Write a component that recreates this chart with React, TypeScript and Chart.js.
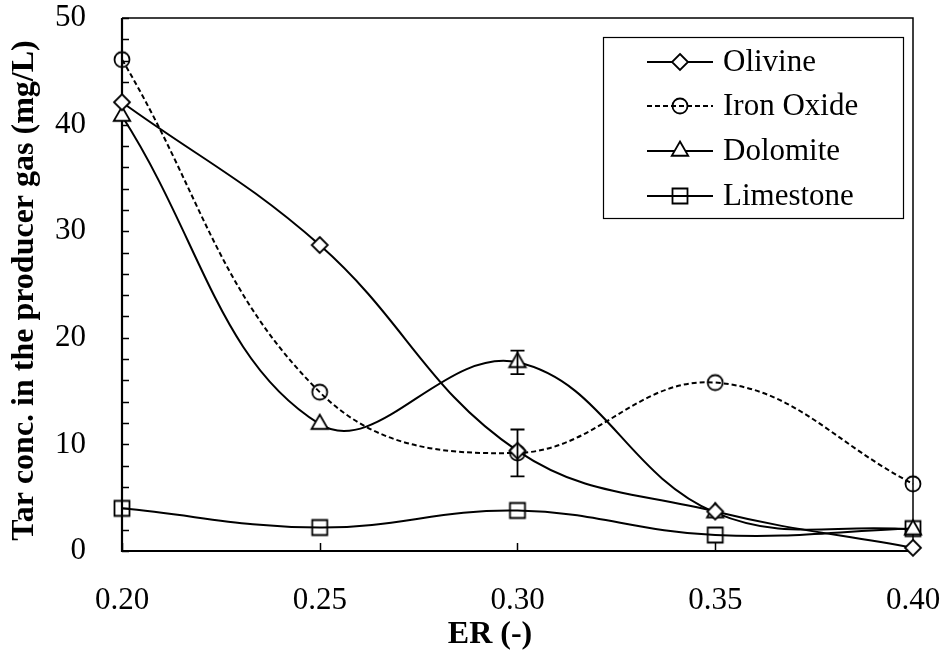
import React, { useEffect, useRef } from "react";
import { Chart, registerables } from "chart.js";

Chart.register(...registerables);

const erValues = [0.2, 0.25, 0.3, 0.35, 0.4];
const olivine = [42.1, 28.7, 9.4, 3.7, 0.3];
const ironOxide = [46.1, 14.9, 9.2, 15.8, 6.3];
const dolomite = [40.8, 11.9, 17.7, 3.6, 2.0];
const limestone = [4.0, 2.2, 3.8, 1.5, 2.1];
const ironOxideErr = [0, 0, 2.2, 0, 0];
const dolomiteErr = [0, 0, 1.1, 0, 0];
const seriesNames = ["Olivine", "Iron Oxide", "Dolomite", "Limestone"];
const xTicks = [0.2, 0.25, 0.3, 0.35, 0.4];
const yTicks = [0, 10, 20, 30, 40, 50];
const xTitle = "ER (-)";
const yTitle = "Tar conc. in the producer gas (mg/L)";

const SERIF = "'Liberation Serif', 'Times New Roman', serif";

type Marker = "diamond" | "circle" | "triangle" | "square";
const markers: Marker[] = ["diamond", "circle", "triangle", "square"];
const dashes: number[][] = [[], [5, 3], [], []];
const fills = ["#ffffff", "rgba(0,0,0,0)", "#ffffff", "rgba(0,0,0,0)"];

function drawMarker(ctx: CanvasRenderingContext2D, m: Marker, x: number, y: number, fill: string) {
  ctx.save();
  ctx.setLineDash([]);
  ctx.lineWidth = 1.8;
  ctx.strokeStyle = "#000";
  ctx.fillStyle = fill;
  ctx.beginPath();
  if (m === "diamond") {
    const r = 8;
    ctx.moveTo(x, y - r);
    ctx.lineTo(x + r, y);
    ctx.lineTo(x, y + r);
    ctx.lineTo(x - r, y);
    ctx.closePath();
  } else if (m === "circle") {
    ctx.arc(x, y, 7.5, 0, Math.PI * 2);
  } else if (m === "triangle") {
    const r = 9.5;
    ctx.moveTo(x, y - r);
    ctx.lineTo(x + r * 0.866, y + r * 0.5);
    ctx.lineTo(x - r * 0.866, y + r * 0.5);
    ctx.closePath();
  } else {
    const h = 7.5;
    ctx.rect(x - h, y - h, 2 * h, 2 * h);
  }
  ctx.fill();
  ctx.stroke();
  ctx.restore();
}

function makePointCanvas(m: Marker, fill: string) {
  const c = document.createElement("canvas");
  c.width = 24;
  c.height = 24;
  const ctx = c.getContext("2d")!;
  drawMarker(ctx, m, 12, 12, fill);
  return c;
}

const frameAndTicks = {
  id: "frameAndTicks",
  beforeDatasetsDraw(chart: any) {
    const { ctx, chartArea } = chart;
    const xs = chart.scales.x;
    const ys = chart.scales.y;
    ctx.save();
    ctx.strokeStyle = "#000";
    ctx.lineWidth = 1.5;
    ctx.beginPath();
    ctx.moveTo(chartArea.left, chartArea.top);
    ctx.lineTo(chartArea.right, chartArea.top);
    ctx.lineTo(chartArea.right, chartArea.bottom);
    ctx.stroke();
    ctx.lineWidth = 2.2;
    ctx.beginPath();
    ctx.moveTo(chartArea.left, chartArea.top);
    ctx.lineTo(chartArea.left, chartArea.bottom);
    ctx.lineTo(chartArea.right, chartArea.bottom);
    ctx.stroke();
    ctx.lineWidth = 1.5;
    ctx.beginPath();
    for (let v = 0; v <= 50; v += 2) {
      const py = Math.round(ys.getPixelForValue(v)) + 0.5;
      ctx.moveTo(chartArea.left, py);
      ctx.lineTo(chartArea.left + 7, py);
    }
    for (const v of xTicks) {
      const px = Math.round(xs.getPixelForValue(v)) + 0.5;
      ctx.moveTo(px, chartArea.bottom);
      ctx.lineTo(px, chartArea.bottom - 8);
    }
    ctx.stroke();
    ctx.restore();
  },
};

const errorBars = {
  id: "errorBars",
  afterDatasetsDraw(chart: any) {
    const { ctx } = chart;
    const xs = chart.scales.x;
    const ys = chart.scales.y;
    const sets: [number[], number[]][] = [
      [ironOxide, ironOxideErr],
      [dolomite, dolomiteErr],
    ];
    ctx.save();
    ctx.strokeStyle = "#000";
    ctx.lineWidth = 1.8;
    ctx.setLineDash([]);
    for (const [vals, errs] of sets) {
      vals.forEach((v, i) => {
        const e = errs[i];
        if (!e) return;
        const px = xs.getPixelForValue(erValues[i]);
        const top = ys.getPixelForValue(v + e);
        const bot = ys.getPixelForValue(v - e);
        ctx.beginPath();
        ctx.moveTo(px, top);
        ctx.lineTo(px, bot);
        ctx.moveTo(px - 7, top);
        ctx.lineTo(px + 7, top);
        ctx.moveTo(px - 7, bot);
        ctx.lineTo(px + 7, bot);
        ctx.stroke();
      });
    }
    ctx.restore();
  },
};

const titlesAndLegend = {
  id: "titlesAndLegend",
  afterDraw(chart: any) {
    const { ctx, chartArea } = chart;
    ctx.save();
    // axis titles
    ctx.fillStyle = "#000";
    ctx.font = `bold 32px ${SERIF}`;
    ctx.textAlign = "center";
    ctx.textBaseline = "middle";
    ctx.fillText(xTitle, chartArea.left + 368, 635);
    ctx.save();
    ctx.translate(25, (chartArea.top + chartArea.bottom) / 2 + 6);
    ctx.rotate(-Math.PI / 2);
    ctx.fillText(yTitle, 0, 0);
    ctx.restore();

    // legend
    const boxLeft = chartArea.left + 481;
    const boxTop = chartArea.top + 19;
    const boxW = 300;
    const boxH = 181;
    ctx.fillStyle = "#fff";
    ctx.fillRect(boxLeft, boxTop, boxW, boxH);
    ctx.strokeStyle = "#000";
    ctx.lineWidth = 1.2;
    ctx.strokeRect(boxLeft + 0.5, boxTop + 0.5, boxW, boxH);
    const rowY = [25, 69, 114, 159];
    seriesNames.forEach((name, i) => {
      const y = boxTop + rowY[i];
      ctx.strokeStyle = "#000";
      ctx.lineWidth = 1.8;
      ctx.setLineDash(dashes[i]);
      ctx.beginPath();
      ctx.moveTo(boxLeft + 44, y);
      ctx.lineTo(boxLeft + 110, y);
      ctx.stroke();
      ctx.setLineDash([]);
      drawMarker(ctx, markers[i], boxLeft + 77, y, fills[i]);
      ctx.fillStyle = "#000";
      ctx.font = `31px ${SERIF}`;
      ctx.textBaseline = "middle";
      ctx.textAlign = "left";
      ctx.fillText(name, boxLeft + 120, y + 1);
    });
    ctx.restore();
  },
};

export default function App() {
  const canvasRef = useRef<HTMLCanvasElement | null>(null);

  useEffect(() => {
    const canvas = canvasRef.current;
    if (!canvas) return;
    const allSeries = [olivine, ironOxide, dolomite, limestone];
    const datasets = allSeries.map((vals, i) => ({
      label: seriesNames[i],
      data: vals.map((v, j) => ({ x: erValues[j], y: v })),
      borderColor: "#000",
      borderWidth: 2,
      borderDash: dashes[i],
      tension: 0.4,
      fill: false,
      clip: false as any,
      pointStyle: makePointCanvas(markers[i], fills[i]),
      pointRadius: 8,
    }));

    const chart = new Chart(canvas, {
      type: "line",
      data: { datasets },
      plugins: [frameAndTicks, errorBars, titlesAndLegend],
      options: {
        animation: false,
        responsive: false,
        maintainAspectRatio: false,
        layout: { padding: { top: 18, right: 32, left: 0, bottom: 0 } },
        plugins: {
          legend: { display: false },
          tooltip: { enabled: false },
        },
        scales: {
          x: {
            type: "linear",
            min: 0.2,
            max: 0.4,
            afterBuildTicks(scale: any) {
              scale.ticks = xTicks.map((v) => ({ value: v }));
            },
            afterFit(scale: any) {
              scale.height = 105;
              scale.paddingLeft = 0;
              scale.paddingRight = 0;
            },
            grid: { display: false, drawTicks: false },
            border: { display: false },
            ticks: {
              color: "#000",
              font: { family: SERIF, size: 31 },
              padding: 31,
              maxRotation: 0,
              callback: (v: any) => Number(v).toFixed(2),
            },
          },
          y: {
            type: "linear",
            min: 0,
            max: 50,
            afterBuildTicks(scale: any) {
              scale.ticks = yTicks.map((v) => ({ value: v }));
            },
            afterFit(scale: any) {
              scale.width = 122;
              scale.paddingTop = 0;
              scale.paddingBottom = 0;
            },
            grid: { display: false, drawTicks: false },
            border: { display: false },
            ticks: {
              color: "#000",
              font: { family: SERIF, size: 31 },
              padding: 36,
            },
          },
        },
      },
    });
    return () => chart.destroy();
  }, []);

  return (
    <div style={{ position: "fixed", left: 0, top: 0, width: 945, height: 656, background: "#fff" }}>
      <canvas ref={canvasRef} width={945} height={656} style={{ display: "block" }} />
    </div>
  );
}
